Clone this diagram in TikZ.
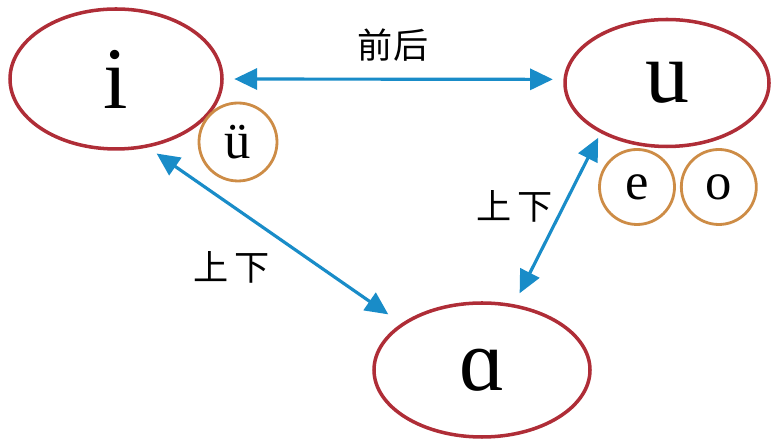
\documentclass[tikz,border=0pt]{standalone}
\usepackage{fontspec}
\setmainfont{Liberation Serif}
\newfontfamily\cjk{Noto Sans CJK SC}
\usepackage{tikz}
\usetikzlibrary{shapes,arrows.meta,positioning}
\definecolor{vowelred}{RGB}{175, 45, 55}
\definecolor{subbrown}{RGB}{205, 140, 70}
\definecolor{linkblue}{RGB}{25, 140, 200}

\begin{document}
\begin{tikzpicture}[
    every node/.style={align=center},
    vowel/.style={ellipse, draw=vowelred, line width=1pt, inner sep=0pt, font=\fontsize{25}{25}\selectfont},
    subvowel/.style={circle, draw=subbrown, line width=0.8pt, minimum size=0.75cm, inner sep=0pt, font=\fontsize{15}{15}\selectfont},
    tag/.style={font=\cjk\fontsize{10}{10}\selectfont},
    bidirectional/.style={line width=0.9pt, draw=linkblue, {Triangle[length=6.5pt,width=6pt]}-{Triangle[length=6.5pt,width=6pt]}, shorten <=3pt, shorten >=3pt}
]
\useasboundingbox (0,0) rectangle (7.71,4.42);

% Main vowels
\node[vowel, minimum width=2.12cm, minimum height=1.40cm] (i) at (1.16,3.63) {i};
\node[vowel, minimum width=2.04cm, minimum height=1.27cm] (u) at (6.67,3.59) {u};
\node[vowel, minimum width=2.16cm, minimum height=1.34cm] (a) at (4.82,0.72) {ɑ};

% Related vowels
\node[subvowel, minimum size=0.78cm] (uu) at (2.38,3.00) {ü};
\node[subvowel] (e) at (6.37,2.55) {e};
\node[subvowel, right=0.04cm of e] (o) {o};

% Connections
\draw[bidirectional] (i.0) -- (u.178);
\draw[bidirectional, shorten >=4.5pt] (i.295) -- (a.150);
\draw[bidirectional, shorten <=3.5pt, shorten >=1.5pt] (a.64) -- (u.217);

% Labels
\node[tag] (front) at (3.93,3.97) {前后};
\node[tag] (updownl) at (2.32,1.75) {上\,下};
\node[tag] (updownr) at (5.15,2.36) {上\,下};

\end{tikzpicture}
\end{document}
